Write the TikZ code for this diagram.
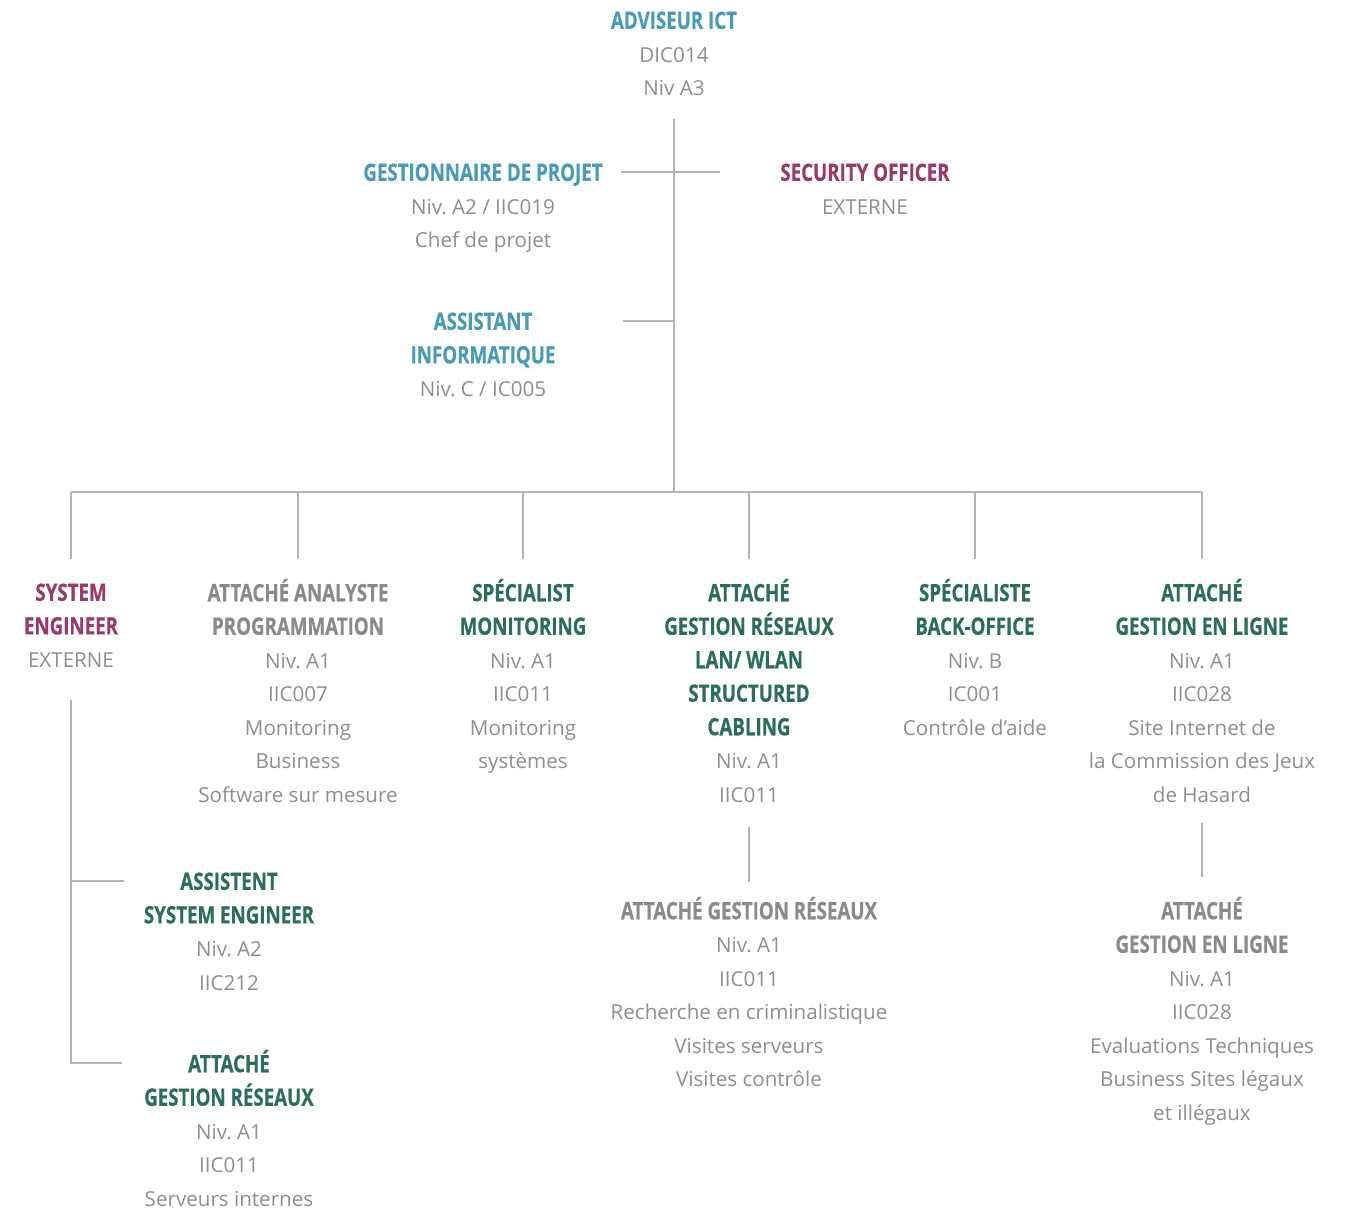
\documentclass[tikz,border=0pt]{standalone}
\usepackage{fontspec}
\setmainfont{Open Sans}
\newfontfamily\headfont[FakeStretch=0.78,FakeBold=0.6]{Open Sans}
\usetikzlibrary{positioning}
\frenchspacing

\definecolor{ictblue}{HTML}{4A9BB8}
\definecolor{ictplum}{HTML}{9A3A68}
\definecolor{ictgreen}{HTML}{2B6E5F}
\definecolor{ictgrey}{HTML}{8A8A8A}
\definecolor{txtgrey}{HTML}{8E8E8E}
\definecolor{linegrey}{HTML}{B4B4B4}

\newcommand{\role}[2]{{\color{#1}\headfont\bfseries\fontsize{12}{16.75}\selectfont\rule{0pt}{11pt}#2}}

\begin{document}
\begin{tikzpicture}[x=0.5pt,y=-0.5pt,
    card/.style={align=center, inner sep=0pt, anchor=north, text=txtgrey,
      font=\fontsize{10.3}{16.75}\selectfont},
    link/.style={draw=linegrey, line width=0.8pt}]
    \useasboundingbox (0,0) rectangle (1351,1212);

    % Top of the tree
    \node[card] (adv) at (674,6.5) {\role{ictblue}{ADVISEUR ICT}\\DIC014\\Niv A3};
    \node[card] (gest) at (483,158.5) {\role{ictblue}{GESTIONNAIRE DE PROJET}\\Niv. A2 / IIC019\\Chef de projet};
    \node[card] (sec) at (865,158.5) {\role{ictplum}{SECURITY OFFICER}\\EXTERNE};
    \node[card] (asst) at (483,307.5) {\role{ictblue}{ASSISTANT}\\\role{ictblue}{INFORMATIQUE}\\Niv. C / IC005};

    % Main row
    \node[card] (se) at (71,578.5) {\role{ictplum}{SYSTEM}\\\role{ictplum}{ENGINEER}\\EXTERNE};
    \node[card] (aap) at (298,578.5) {\role{ictgrey}{ATTACHÉ ANALYSTE}\\\role{ictgrey}{PROGRAMMATION}\\Niv. A1\\IIC007\\Monitoring\\Business\\Software sur mesure};
    \node[card] (smon) at (523,578.5) {\role{ictgreen}{SPÉCIALIST}\\\role{ictgreen}{MONITORING}\\Niv. A1\\IIC011\\Monitoring\\systèmes};
    \node[card] (agl) at (749,578.5) {\role{ictgreen}{ATTACHÉ}\\\role{ictgreen}{GESTION RÉSEAUX}\\\role{ictgreen}{LAN/ WLAN}\\\role{ictgreen}{STRUCTURED}\\\role{ictgreen}{CABLING}\\Niv. A1\\IIC011};
    \node[card] (sbo) at (975,578.5) {\role{ictgreen}{SPÉCIALISTE}\\\role{ictgreen}{BACK-OFFICE}\\Niv. B\\IC001\\Contrôle d’aide};
    \node[card] (gel) at (1202,578.5) {\role{ictgreen}{ATTACHÉ}\\\role{ictgreen}{GESTION EN LIGNE}\\Niv. A1\\IIC028\\Site Internet de\\la Commission des Jeux\\de Hasard};

    % Lower level
    \node[card] (ase) at (229,867.5) {\role{ictgreen}{ASSISTENT}\\\role{ictgreen}{SYSTEM ENGINEER}\\Niv. A2\\IIC212};
    \node[card] (agrl) at (229,1049.5) {\role{ictgreen}{ATTACHÉ}\\\role{ictgreen}{GESTION RÉSEAUX}\\Niv. A1\\IIC011\\Serveurs internes};
    \node[card] (agrm) at (749,896.5) {\role{ictgrey}{ATTACHÉ GESTION RÉSEAUX}\\Niv. A1\\IIC011\\Recherche en criminalistique\\Visites serveurs\\Visites contrôle};
    \node[card] (gelb) at (1202,896.5) {\role{ictgrey}{ATTACHÉ}\\\role{ictgrey}{GESTION EN LIGNE}\\Niv. A1\\IIC028\\Evaluations Techniques\\Business Sites légaux\\et illégaux};

    % Connectors
    \coordinate (bus) at (675,492);
    \path ([yshift=-6.75pt]asst.north) coordinate (asstT)
          ([yshift=-6.75pt]ase.north) coordinate (aseT)
          ([yshift=-6.75pt]agrl.north) coordinate (agrlT)
          ([yshift=-6.75pt]gest.north) coordinate (gestT);
    \draw[link] ([yshift=-11pt]adv.south) -- (adv.south |- bus);
    \draw[link] ([xshift=9pt]gestT -| gest.east) -- ([xshift=-30pt]gestT -| sec.west);
    \draw[link] ([xshift=33.5pt]asstT -| asst.east) -- (asstT -| bus);
    \draw[link] (se.north |- bus) -- (gel.north |- bus);
    \foreach \n in {se,aap,smon,agl,sbo,gel}
        \draw[link] (\n.north |- bus) -- ([yshift=9.75pt]\n.north);
    \draw[link] ([yshift=-16pt]se.south) |- ([xshift=-11pt]agrlT -| agrl.west);
    \draw[link] (se.south |- aseT) -- ([xshift=-10pt]aseT -| ase.west);
    \draw[link] ([yshift=-12pt]agl.south) -- ([yshift=7.25pt]agrm.north);
    \draw[link] ([yshift=-10pt]gel.south) -- ([yshift=9.75pt]gelb.north);
\end{tikzpicture}
\end{document}
